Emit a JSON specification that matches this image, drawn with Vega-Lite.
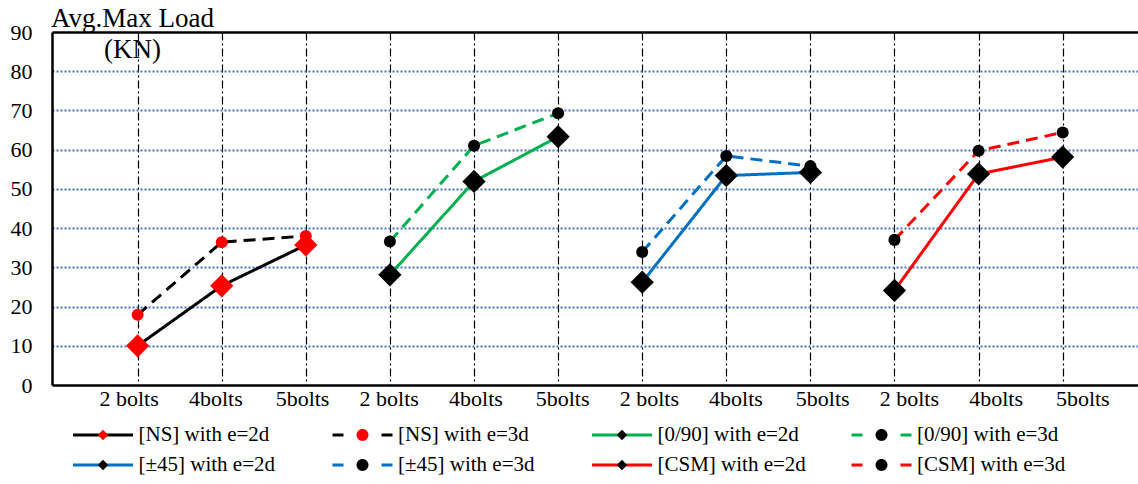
{
  "$schema": "https://vega.github.io/schema/vega-lite/v6.json",
  "width": 1086,
  "height": 353,
  "autosize": {"type": "none"},
  "padding": {"left": 52, "top": 32, "right": 0, "bottom": 99},
  "background": "white",
  "config": {
    "font": "Liberation Serif",
    "view": {"stroke": null}
  },
  "data": {
    "values": [
      {"slot": "NS|2 bolts", "series": "[NS] with e=2d", "e": "2d", "load": 10.0},
      {"slot": "NS|4bolts", "series": "[NS] with e=2d", "e": "2d", "load": 25.3},
      {"slot": "NS|5bolts", "series": "[NS] with e=2d", "e": "2d", "load": 35.7},
      {"slot": "NS|2 bolts", "series": "[NS] with e=3d", "e": "3d", "load": 17.9},
      {"slot": "NS|4bolts", "series": "[NS] with e=3d", "e": "3d", "load": 36.4},
      {"slot": "NS|5bolts", "series": "[NS] with e=3d", "e": "3d", "load": 38.0},
      {"slot": "0/90|2 bolts", "series": "[0/90] with e=2d", "e": "2d", "load": 28.1},
      {"slot": "0/90|4bolts", "series": "[0/90] with e=2d", "e": "2d", "load": 51.9},
      {"slot": "0/90|5bolts", "series": "[0/90] with e=2d", "e": "2d", "load": 63.3},
      {"slot": "0/90|2 bolts", "series": "[0/90] with e=3d", "e": "3d", "load": 36.6},
      {"slot": "0/90|4bolts", "series": "[0/90] with e=3d", "e": "3d", "load": 61.0},
      {"slot": "0/90|5bolts", "series": "[0/90] with e=3d", "e": "3d", "load": 69.3},
      {"slot": "±45|2 bolts", "series": "[±45] with e=2d", "e": "2d", "load": 26.2},
      {"slot": "±45|4bolts", "series": "[±45] with e=2d", "e": "2d", "load": 53.4},
      {"slot": "±45|5bolts", "series": "[±45] with e=2d", "e": "2d", "load": 54.2},
      {"slot": "±45|2 bolts", "series": "[±45] with e=3d", "e": "3d", "load": 33.9},
      {"slot": "±45|4bolts", "series": "[±45] with e=3d", "e": "3d", "load": 58.4},
      {"slot": "±45|5bolts", "series": "[±45] with e=3d", "e": "3d", "load": 55.8},
      {"slot": "CSM|2 bolts", "series": "[CSM] with e=2d", "e": "2d", "load": 24.1},
      {"slot": "CSM|4bolts", "series": "[CSM] with e=2d", "e": "2d", "load": 53.8},
      {"slot": "CSM|5bolts", "series": "[CSM] with e=2d", "e": "2d", "load": 58.1},
      {"slot": "CSM|2 bolts", "series": "[CSM] with e=3d", "e": "3d", "load": 37.0},
      {"slot": "CSM|4bolts", "series": "[CSM] with e=3d", "e": "3d", "load": 59.7},
      {"slot": "CSM|5bolts", "series": "[CSM] with e=3d", "e": "3d", "load": 64.4}
    ]
  },
  "encoding": {
    "x": {
      "field": "slot",
      "type": "nominal",
      "scale": {
        "type": "point",
        "domain": ["NS|2 bolts", "NS|4bolts", "NS|5bolts", "0/90|2 bolts", "0/90|4bolts", "0/90|5bolts", "±45|2 bolts", "±45|4bolts", "±45|5bolts", "CSM|2 bolts", "CSM|4bolts", "CSM|5bolts"],
        "padding": 0.957,
        "align": 0.532
      },
      "axis": {
        "title": null,
        "labelExpr": "split(datum.label, '|')[1]",
        "labelFont": "Liberation Serif",
        "labelFontSize": 22,
        "labelColor": "black",
        "labelAngle": 0,
        "labelOverlap": false,
        "labelBound": false,
        "labelFlush": false,
        "labelOffset": {"expr": "-9 + 2.6 * indexof(domain('x'), datum.value)"},
        "ticks": false,
        "tickSize": 0,
        "labelPadding": 3,
        "domainColor": "black",
        "domainWidth": 2.5,
        "grid": true,
        "gridColor": "black",
        "gridDash": [8, 3, 2, 3],
        "gridWidth": 1.2,
        "gridOpacity": 1
      }
    },
    "y": {
      "field": "load",
      "type": "quantitative",
      "scale": {"domain": [0, 90], "nice": false},
      "axis": {
        "title": ["Avg.Max Load", "(KN)"],
        "titleAngle": 0,
        "titleAlign": "center",
        "titleBaseline": "alphabetic",
        "titleX": 80,
        "titleY": -6,
        "titleFont": "Liberation Serif",
        "titleFontSize": 27,
        "titleFontWeight": "normal",
        "titleColor": "black",
        "titleLineHeight": 31,
        "values": [0, 10, 20, 30, 40, 50, 60, 70, 80, 90],
        "labelFont": "Liberation Serif",
        "labelFontSize": 22,
        "labelColor": "black",
        "ticks": false,
        "tickSize": 0,
        "labelPadding": 20,
        "domainColor": "black",
        "domainWidth": 2.5,
        "grid": true,
        "gridColor": {"condition": {"test": "datum.value >= 90", "value": "black"}, "value": "#4472C4"},
        "gridDash": {"condition": {"test": "datum.value >= 90", "value": []}, "value": [2, 2]},
        "gridWidth": {"condition": {"test": "datum.value >= 90", "value": 2.5}, "value": 1.8},
        "gridOpacity": {"condition": {"test": "datum.value <= 0", "value": 0}, "value": 1}
      }
    }
  },
  "layer": [
    {
      "mark": {"type": "line", "strokeWidth": 3},
      "encoding": {
        "stroke": {
          "field": "series",
          "type": "nominal",
          "sort": ["[NS] with e=2d", "[NS] with e=3d", "[0/90] with e=2d", "[0/90] with e=3d", "[±45] with e=2d", "[±45] with e=3d", "[CSM] with e=2d", "[CSM] with e=3d"],
          "scale": {"range": ["#000000", "#000000", "#00B050", "#00B050", "#0070C0", "#0070C0", "#FF0000", "#FF0000"]},
          "legend": {
            "orient": "none", "legendX": 19.5, "legendY": 388, "direction": "horizontal",
            "columns": 4, "columnPadding": 43.5, "rowPadding": 0, "gridAlign": "all",
            "title": null, "symbolType": "stroke", "symbolSize": 3600, "symbolStrokeWidth": 3,
            "clipHeight": 30, "labelFont": "Liberation Serif", "labelFontSize": 21, "labelColor": "black",
            "labelOffset": 4, "labelLimit": 400, "padding": 0, "zindex": 0,
            "encode": {"symbols": {"update": {"strokeDash": {"signal": "indexof(datum.value, '3d') >= 0 ? [11, 38] : [1, 0]"}}}}
          }
        },
        "strokeDash": {
          "field": "series",
          "type": "nominal",
          "sort": ["[NS] with e=2d", "[NS] with e=3d", "[0/90] with e=2d", "[0/90] with e=3d", "[±45] with e=2d", "[±45] with e=3d", "[CSM] with e=2d", "[CSM] with e=3d"],
          "scale": {"range": [[1, 0], [12, 7], [1, 0], [12, 7], [1, 0], [12, 7], [1, 0], [12, 7]]},
          "legend": null
        }
      }
    },
    {
      "transform": [{"filter": "datum.e == '3d'"}],
      "mark": {"type": "point", "shape": "circle", "filled": true, "size": 145, "opacity": 1, "strokeWidth": 0},
      "encoding": {
        "fill": {
          "field": "series",
          "type": "nominal",
          "scale": {
            "domain": ["[NS] with e=2d", "[NS] with e=3d", "[0/90] with e=2d", "[0/90] with e=3d", "[±45] with e=2d", "[±45] with e=3d", "[CSM] with e=2d", "[CSM] with e=3d"],
            "range": ["#FF0000", "#FF0000", "#000000", "#000000", "#000000", "#000000", "#000000", "#000000"]
          },
          "legend": {
            "orient": "none", "legendX": 19.5, "legendY": 388, "direction": "horizontal",
            "columns": 4, "columnPadding": 43.5, "rowPadding": 0, "gridAlign": "all",
            "title": null, "symbolType": "circle", "symbolSize": 3969, "symbolStrokeWidth": 0,
            "symbolOpacity": 1,
            "clipHeight": 30, "labelFont": "Liberation Serif", "labelFontSize": 21, "labelColor": "rgba(0,0,0,0)",
            "labelOffset": 4, "labelLimit": 400, "padding": 0, "zindex": 1,
            "encode": {"symbols": {"update": {"shape": {"signal": "indexof(datum.value, '3d') >= 0 ? 'M-0.19,0A0.19,0.19,0,1,0,0.19,0A0.19,0.19,0,1,0,-0.19,0Z' : 'M0,-0.165L0.165,0L0,0.165L-0.165,0Z'"}}}}
          }
        }
      }
    },
    {
      "transform": [{"filter": "datum.e == '2d'"}],
      "mark": {"type": "point", "shape": "diamond", "filled": true, "size": 540, "opacity": 1, "strokeWidth": 0},
      "encoding": {
        "fill": {
          "field": "series",
          "type": "nominal",
          "scale": {
            "domain": ["[NS] with e=2d", "[NS] with e=3d", "[0/90] with e=2d", "[0/90] with e=3d", "[±45] with e=2d", "[±45] with e=3d", "[CSM] with e=2d", "[CSM] with e=3d"],
            "range": ["#FF0000", "#FF0000", "#000000", "#000000", "#000000", "#000000", "#000000", "#000000"]
          },
          "legend": {
            "orient": "none", "legendX": 19.5, "legendY": 388, "direction": "horizontal",
            "columns": 4, "columnPadding": 43.5, "rowPadding": 0, "gridAlign": "all",
            "title": null, "symbolType": "circle", "symbolSize": 3969, "symbolStrokeWidth": 0,
            "symbolOpacity": 1,
            "clipHeight": 30, "labelFont": "Liberation Serif", "labelFontSize": 21, "labelColor": "rgba(0,0,0,0)",
            "labelOffset": 4, "labelLimit": 400, "padding": 0, "zindex": 1,
            "encode": {"symbols": {"update": {"shape": {"signal": "indexof(datum.value, '3d') >= 0 ? 'M-0.19,0A0.19,0.19,0,1,0,0.19,0A0.19,0.19,0,1,0,-0.19,0Z' : 'M0,-0.165L0.165,0L0,0.165L-0.165,0Z'"}}}}
          }
        }
      }
    }
  ]
}
